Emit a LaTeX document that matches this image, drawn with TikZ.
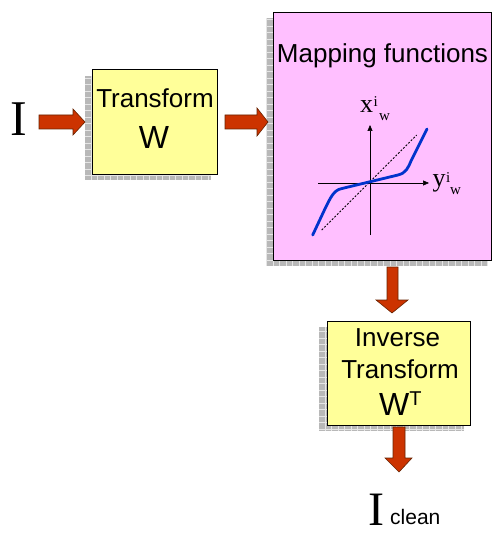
\documentclass[tikz,border=0pt]{standalone}
\usepackage{fontspec}
\setmainfont{Liberation Sans}
\newfontfamily\serifI{Liberation Serif}
\usetikzlibrary{arrows.meta}
\definecolor{boxyellow}{HTML}{FFFF99}
\definecolor{boxpink}{HTML}{FFBFFF}
\definecolor{arrred}{HTML}{CC3300}
\definecolor{arrline}{HTML}{662200}
\definecolor{curveblue}{HTML}{0033CC}
\definecolor{shadowgray}{HTML}{B8B8B8}
\newcommand\myshadow[4]{%
  \fill[shadowgray] (#1,#2) rectangle (#3,#4);
  \draw[gray!20, line width=0.4pt, step=6.5pt] (#1,#2) grid (#3,#4);}
\tikzset{
  yellowbox/.style={draw=black, line width=0.8pt, fill=boxyellow, inner sep=0pt},
  pinkbox/.style={draw=black, line width=0.8pt, fill=boxpink, inner sep=0pt},
  blockarr/.style={fill=arrred, draw=arrline, line width=0.6pt, line join=miter},
  boxtext/.style={anchor=base, inner sep=0pt, font=\fontsize{26}{26}\selectfont},
  bigW/.style={anchor=base, inner sep=0pt, font=\fontsize{32}{32}\selectfont},
  bigI/.style={anchor=base, inner sep=0pt, font=\serifI\fontsize{50}{50}\selectfont},
  axis/.style={line width=0.6pt, -{Triangle[length=6pt,width=5pt]}},
  lbl/.style={anchor=base, inner sep=0pt, font=\serifI\fontsize{26}{26}\selectfont},
  lblsmall/.style={anchor=base west, inner sep=0pt, font=\serifI\fontsize{15}{15}\selectfont}
}
\begin{document}
\begin{tikzpicture}[x=1pt,y=-1pt]
\useasboundingbox (0,0) rectangle (492,534);
% shadows
\myshadow{85}{76}{211}{180}
\myshadow{266}{18}{488}{266}
\myshadow{319}{327}{464}{431}
% boxes
\node[yellowbox, minimum width=125pt, minimum height=105pt] (tw) at (154.5,121.5) {};
\node[pinkbox, minimum width=218pt, minimum height=248pt] (map) at (382,136) {};
\node[yellowbox, minimum width=143pt, minimum height=104pt] (inv) at (398.5,373) {};
% texts
\node[boxtext] (t1) at (155,108) {Transform};
\node[bigW] (t2) at (154,149) {W};
\node[boxtext] (m1) at (382.5,63) {Mapping functions};
\node[boxtext] (i1) at (397.5,346) {Inverse};
\node[boxtext] (i2) at (400,378) {Transform};
\node[bigW, anchor=base west] (i3) at (379,415) {W\raisebox{10pt}{\fontsize{20}{20}\selectfont T}};
% I symbols
\node[bigI] (Iin) at (19,136) {I};
\node[bigI, font=\serifI\fontsize{48}{48}\selectfont] (Iout) at (376,525) {I};
\node[anchor=base west, inner sep=0pt, font=\fontsize{21}{21}\selectfont] (clean) at (390,524) {clean};
% block arrows
\fill[blockarr] (39,115) -- (73,115) -- (73,109) -- (85,122) -- (73,135) -- (73,129) -- (39,129) -- cycle;
\fill[blockarr] (225,115) -- (257,115) -- (257,108) -- (268,122) -- (257,136) -- (257,129) -- (225,129) -- cycle;
\fill[blockarr] (387,267) -- (387,300) -- (376,300) -- (392,313) -- (408,300) -- (398,300) -- (398,267) -- cycle;
\fill[blockarr] (393,427) -- (393,458) -- (385,458) -- (399,472) -- (412,458) -- (405,458) -- (405,427) -- cycle;
% graph
\coordinate (o) at (370,183);
\coordinate (vtop) at (370,125);
\coordinate (vbot) at (370,235);
\coordinate (hl) at (318,183);
\coordinate (hr) at (429,183);
\draw[line width=0.6pt] (vbot) -- (o);
\draw[axis] (o) -- (vtop);
\draw[line width=0.6pt] (hl) -- (o);
\draw[axis] (o) -- (hr);
\draw[line width=0.8pt, dash pattern=on 2pt off 1.6pt] (321.7,230) -- (416.7,135);
\draw[curveblue, line width=2.8pt, line cap=round, line join=round]
  (312.7,235) -- (323,213) .. controls (331,196) and (334,190) .. (342,188.5)
  -- (398,175) .. controls (406,173) and (408,168) .. (411,161) -- (427,129);
% axis labels
\node[lbl] (xl) at (366.5,113) {x};
\node[lblsmall] (xi) at (373.5,107) {i};
\node[lblsmall] (xw) at (379,121) {w};
\node[lbl] (yl) at (439,187) {y};
\node[lblsmall] (yi) at (446,183) {i};
\node[lblsmall] (yw) at (450,195) {w};
\end{tikzpicture}
\end{document}
